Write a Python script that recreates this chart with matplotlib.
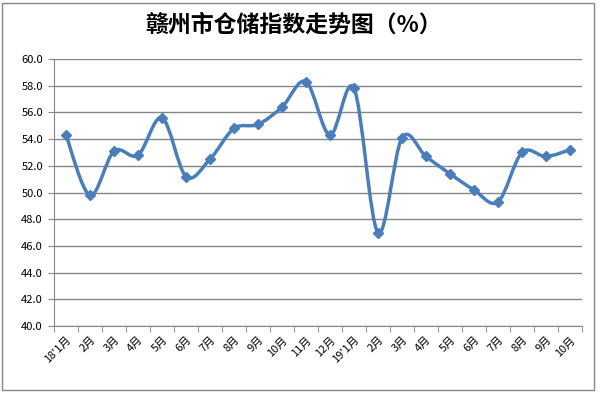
import matplotlib.pyplot as plt
import matplotlib
import numpy as np
from matplotlib.path import Path
from matplotlib.patches import PathPatch, Rectangle

matplotlib.rcParams['font.family'] = ['Noto Sans CJK SC', 'DejaVu Sans']

months = ["18'1月", "2月", "3月", "4月", "5月", "6月", "7月", "8月", "9月", "10月", "11月",
          "12月", "19'1月", "2月", "3月", "4月", "5月", "6月", "7月", "8月", "9月", "10月"]
values = [54.3, 49.8, 53.1, 52.8, 55.6, 51.2, 52.5, 54.8, 55.1, 56.4, 58.3,
          54.3, 57.8, 47.0, 54.1, 52.7, 51.4, 50.2, 49.3, 53.0, 52.7, 53.2]
yticks = [40.0, 42.0, 44.0, 46.0, 48.0, 50.0, 52.0, 54.0, 56.0, 58.0, 60.0]

line_color = '#4A7EBB'

fig = plt.figure(figsize=(6, 3.93), dpi=100)
ax = fig.add_axes([0.09, 0.17, 0.88, 0.68])

x = np.arange(len(values))
y = np.array(values)

# smooth line like Excel (bezier through points)
verts = [(x[0], y[0])]
codes = [Path.MOVETO]
n = len(x)
for i in range(n - 1):
    p0 = np.array([x[max(i - 1, 0)], y[max(i - 1, 0)]])
    p1 = np.array([x[i], y[i]])
    p2 = np.array([x[i + 1], y[i + 1]])
    p3 = np.array([x[min(i + 2, n - 1)], y[min(i + 2, n - 1)]])
    c1 = p1 + (p2 - p0) / 6.0
    c2 = p2 - (p3 - p1) / 6.0
    verts += [tuple(c1), tuple(c2), tuple(p2)]
    codes += [Path.CURVE4, Path.CURVE4, Path.CURVE4]
ax.add_patch(PathPatch(Path(verts, codes), facecolor='none', edgecolor=line_color,
                       lw=2.5, zorder=3, capstyle='round', joinstyle='round'))
ax.plot(x, y, linestyle='none', marker='D', markersize=5.5, color=line_color, zorder=4)

ax.set_xlim(-0.5, n - 0.5)
ax.set_ylim(40, 60)
ax.set_yticks(yticks)
ax.set_yticklabels(['%.1f' % v for v in yticks], fontsize=8)
ax.set_xticks(x)
ax.set_xticklabels(months, rotation=45, ha='right', rotation_mode='anchor', fontsize=8)
ax.set_xticks(np.arange(-0.5, n, 1.0), minor=True)
ax.tick_params(axis='x', which='major', length=0, pad=6)
ax.tick_params(axis='x', which='minor', length=4, color='#868686', direction='out')
ax.tick_params(axis='y', length=4, color='#868686', direction='out', pad=4)

ax.grid(axis='y', color='#868686', lw=1)
ax.set_axisbelow(True)
for s in ['top', 'right']:
    ax.spines[s].set_visible(False)
ax.spines['left'].set_color('#868686')
ax.spines['bottom'].set_color('#868686')

fig.text(0.49, 0.935, '赣州市仓储指数走势图（%）', ha='center', va='center',
         fontsize=16.5, fontweight='bold')

fig.patches.append(Rectangle((0.004, 0.008), 0.986, 0.985, transform=fig.transFigure,
                             fill=False, edgecolor='#868686', lw=1))

fig.savefig('out.png', dpi=100)
